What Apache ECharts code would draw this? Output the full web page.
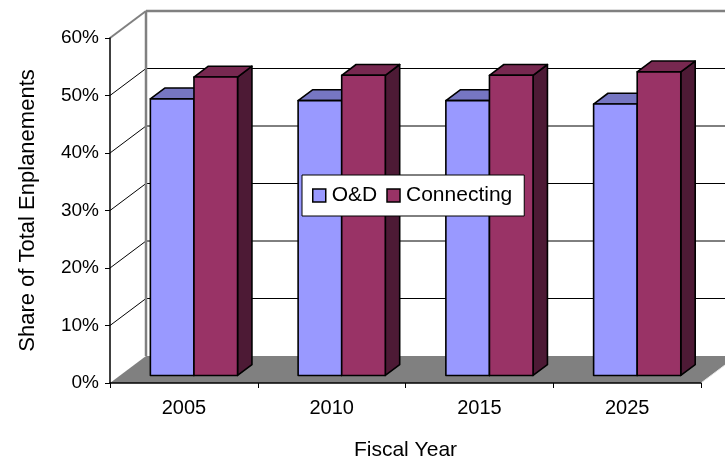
<!DOCTYPE html>
<html>
<head>
<meta charset="utf-8">
<script src="https://cdn.jsdelivr.net/npm/echarts@6/dist/echarts.min.js"></script>
<style>
  html, body { margin: 0; padding: 0; background: #ffffff; }
  #chart { width: 725px; height: 461px; }
</style>
</head>
<body>
<div id="chart"></div>
<script>
// Share of total enplanements by fiscal year
const years = ['2005', '2010', '2015', '2025'];
const odShare = [48.1, 47.8, 47.8, 47.2];
const connectingShare = [51.9, 52.2, 52.2, 52.8];
const valueTicks = [0, 10, 20, 30, 40, 50, 60];

const FONT = 'Liberation Sans, Arial, Helvetica, sans-serif';
// oblique offset from the front plane to the back wall
const DEPTH = [36, -27];
// bar front/back planes as fractions of the full depth
const BAR_FRONT = 0.28;
const BAR_BACK = 0.68;
// width of one bar as a fraction of a category band
const BAR_FRAC = 0.295;

const palette = {
  od:   { front: '#9999FF', top: '#7676C2', side: '#5A5AA0' },
  conn: { front: '#993366', top: '#772850', side: '#4D1A35' }
};

function line(x1, y1, x2, y2, color, width) {
  return {
    type: 'line',
    shape: { x1: x1, y1: y1, x2: x2, y2: y2 },
    style: { stroke: color, lineWidth: width }
  };
}

// walls, gridlines and floor of the 3-D box
function renderFrame(params, api) {
  const cs = params.coordSys;
  const x0 = cs.x, x1 = cs.x + cs.width;
  const yT = cs.y, yB = cs.y + cs.height;
  const dx = DEPTH[0], dy = DEPTH[1];
  const children = [];

  children.push({
    type: 'polygon',
    shape: { points: [[x0, yT], [x0 + dx, yT + dy], [x0 + dx, yB + dy], [x0, yB]] },
    style: { fill: '#ffffff' }
  });
  children.push({
    type: 'rect',
    shape: { x: x0 + dx, y: yT + dy, width: cs.width, height: cs.height },
    style: { fill: '#ffffff' }
  });

  const inner = valueTicks.slice(1, -1);
  inner.forEach(function (v) {
    const y = api.coord([0, v])[1];
    children.push(line(x0, y, x0 + dx, y + dy, '#000000', 1));
    children.push(line(x0 + dx, y + dy, x1 + dx, y + dy, '#000000', 1));
  });

  // wall borders
  children.push(line(x0, yT, x0 + dx, yT + dy, '#808080', 2));
  children.push(line(x0 + dx, yT + dy, x1 + dx, yT + dy, '#808080', 2.5));
  children.push(line(x0 + dx, yT + dy, x0 + dx, yB + dy, '#808080', 2.5));

  // floor
  children.push({
    type: 'polygon',
    shape: { points: [[x0, yB], [x1, yB], [x1 + dx, yB + dy], [x0 + dx, yB + dy]] },
    style: { fill: '#808080' }
  });
  children.push(line(x1, yB, x1 + dx, yB + dy, '#e6e6e6', 1));

  return { type: 'group', children: children };
}

// one 3-D box per data point; k = position within the category pair
function barRenderer(k, colors) {
  return function (params, api) {
    const cat = api.value(0);
    const val = api.value(1);
    const base = api.coord([cat, 0]);
    const top = api.coord([cat, val]);
    const band = api.size([1, 0])[0];
    const w = band * BAR_FRAC;
    const xl = base[0] - w + k * w;
    const xr = xl + w;
    const fx = DEPTH[0] * BAR_FRONT, fy = DEPTH[1] * BAR_FRONT;
    const bx = DEPTH[0] * BAR_BACK, by = DEPTH[1] * BAR_BACK;
    const edge = { stroke: '#000000', lineWidth: 1.6, lineJoin: 'round' };
    const yt = top[1], yb = base[1];
    return {
      type: 'group',
      children: [
        {
          type: 'polygon',
          shape: { points: [[xr + fx, yt + fy], [xr + bx, yt + by], [xr + bx, yb + by], [xr + fx, yb + fy]] },
          style: Object.assign({ fill: colors.side }, edge)
        },
        {
          type: 'polygon',
          shape: { points: [[xl + fx, yt + fy], [xr + fx, yt + fy], [xr + bx, yt + by], [xl + bx, yt + by]] },
          style: Object.assign({ fill: colors.top }, edge)
        },
        {
          type: 'rect',
          shape: { x: xl + fx, y: yt + fy, width: w, height: yb - yt },
          style: Object.assign({ fill: colors.front }, edge)
        }
      ]
    };
  };
}

const chart = echarts.init(document.getElementById('chart'), null, { renderer: 'canvas' });

chart.setOption({
  animation: false,
  backgroundColor: '#ffffff',
  textStyle: { fontFamily: FONT, color: '#000000' },
  grid: { left: 110, right: 24, top: 38, bottom: 78, containLabel: false, outerBoundsMode: 'none' },
  legend: {
    data: ['O&D', 'Connecting'],
    left: 302,
    top: 175,
    z: 20,
    backgroundColor: '#ffffff',
    borderColor: '#000000',
    borderWidth: 1,
    padding: [10, 12, 10, 10],
    itemGap: 9,
    itemWidth: 13,
    itemHeight: 13,
    icon: 'rect',
    itemStyle: { borderColor: '#000000', borderWidth: 1.5 },
    textStyle: { fontFamily: FONT, fontSize: 21, color: '#000000', padding: [0, 0, 0, 1] }
  },
  xAxis: {
    type: 'category',
    data: years,
    boundaryGap: true,
    z: 5,
    name: 'Fiscal Year',
    nameLocation: 'middle',
    nameGap: 57,
    nameTextStyle: { fontFamily: FONT, fontSize: 21, color: '#000000' },
    axisLine: { show: true, lineStyle: { color: '#000000', width: 1.5 } },
    axisTick: { show: true, length: 5, interval: 0, lineStyle: { color: '#000000' } },
    axisLabel: { fontFamily: FONT, fontSize: 20, color: '#000000', margin: 15, interval: 0 },
    splitLine: { show: false }
  },
  yAxis: {
    type: 'value',
    min: valueTicks[0],
    max: valueTicks[valueTicks.length - 1],
    interval: 10,
    z: 5,
    name: 'Share of Total Enplanements',
    nameLocation: 'middle',
    nameGap: 71,
    nameTextStyle: { fontFamily: FONT, fontSize: 22, color: '#000000' },
    axisLine: { show: true, lineStyle: { color: '#000000', width: 1.5 } },
    axisTick: { show: true, length: 5, lineStyle: { color: '#000000' } },
    axisLabel: { fontFamily: FONT, fontSize: 19, color: '#000000', margin: 11, formatter: '{value}%' },
    splitLine: { show: false }
  },
  series: [
    {
      type: 'custom',
      name: 'frame',
      z: 1,
      silent: true,
      renderItem: renderFrame,
      data: [[0, 0]],
      encode: { x: 0, y: 1 }
    },
    {
      type: 'custom',
      name: 'O&D',
      z: 3,
      renderItem: barRenderer(0, palette.od),
      itemStyle: { color: palette.od.front },
      data: years.map(function (y, i) { return [i, odShare[i]]; }),
      encode: { x: 0, y: 1 }
    },
    {
      type: 'custom',
      name: 'Connecting',
      z: 3,
      renderItem: barRenderer(1, palette.conn),
      itemStyle: { color: palette.conn.front },
      data: years.map(function (y, i) { return [i, connectingShare[i]]; }),
      encode: { x: 0, y: 1 }
    }
  ]
});
</script>
</body>
</html>
